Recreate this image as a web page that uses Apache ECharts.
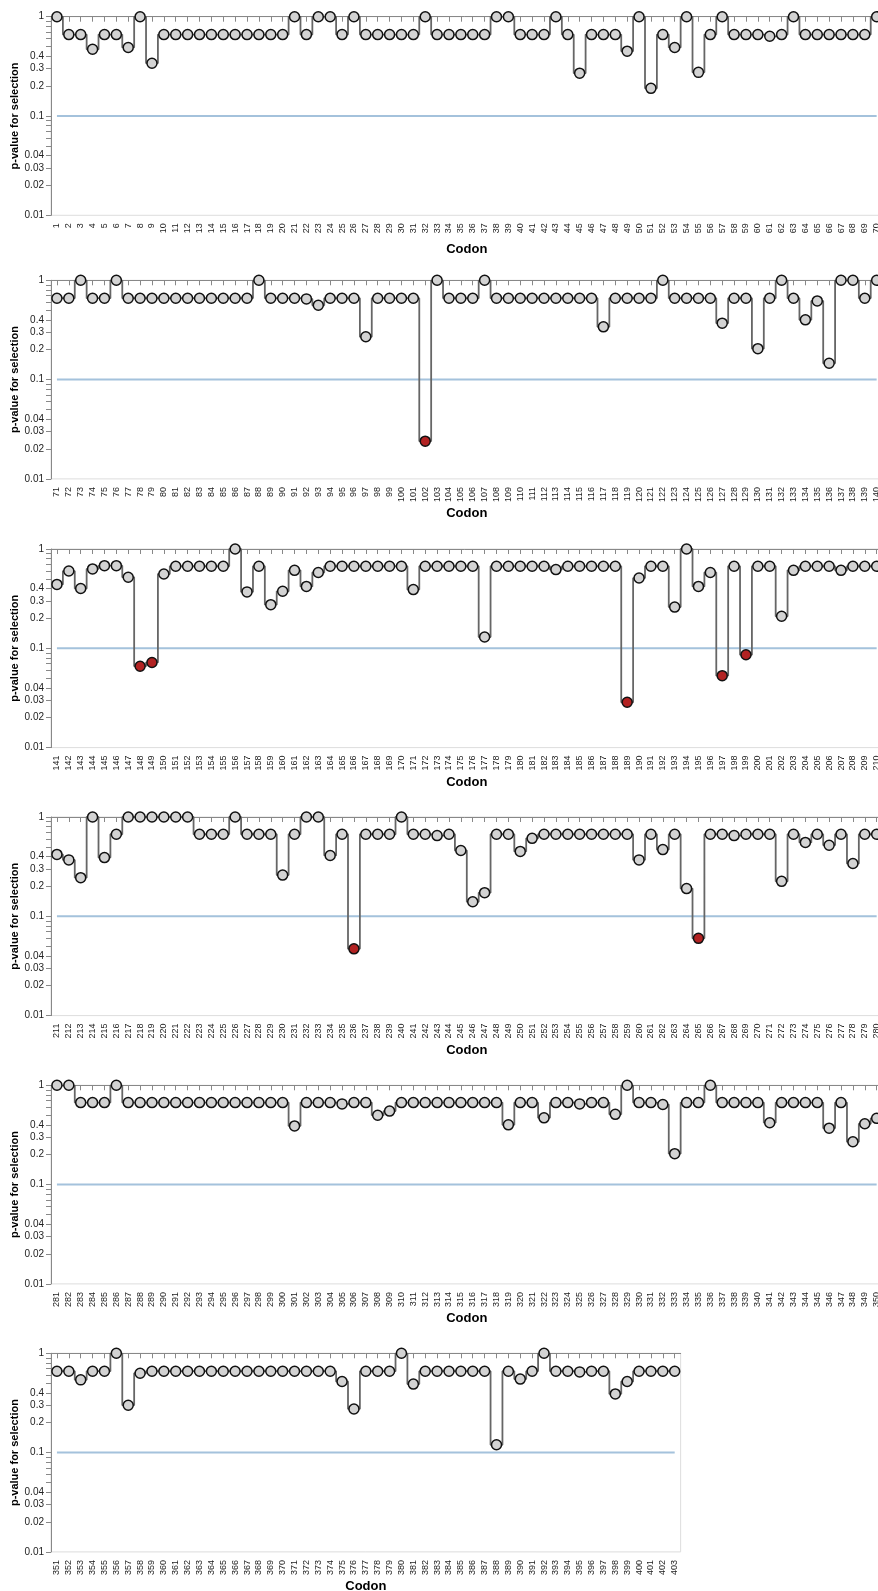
<!DOCTYPE html>
<html>
<head>
<meta charset="utf-8">
<script src="https://cdn.jsdelivr.net/npm/echarts@6/dist/echarts.min.js"></script>
<style>
  html, body { margin: 0; padding: 0; background: #fff; }
  #chart { width: 878px; height: 1591px; }
</style>
</head>
<body>
<div id="chart"></div>
<script>
// Codon ranges for each panel (first, last)
const PANEL_RANGES = [[1, 70], [71, 140], [141, 210], [211, 280], [281, 350], [351, 403]];

// p-values for selection, per panel
const P1 = [1,0.66,0.66,0.47,0.66,0.66,0.49,1,0.34,0.66,
  0.66,0.66,0.66,0.66,0.66,0.66,0.66,0.66,0.66,0.66,
  1,0.66,1,1,0.66,1,0.66,0.66,0.66,0.66,
  0.66,1,0.66,0.66,0.66,0.66,0.66,1,1,0.66,
  0.66,0.66,1,0.66,0.27,0.66,0.66,0.66,0.45,1,
  0.19,0.66,0.49,1,0.275,0.66,1,0.66,0.66,0.66,
  0.635,0.66,1,0.66,0.66,0.66,0.66,0.66,0.66,1];
const P2 = [0.66,0.66,1,0.66,0.66,1,0.66,0.66,0.66,0.66,
  0.66,0.66,0.66,0.66,0.66,0.66,0.66,1,0.66,0.66,
  0.66,0.65,0.56,0.66,0.66,0.66,0.27,0.66,0.66,0.66,
  0.66,0.024,1,0.66,0.66,0.66,1,0.66,0.66,0.66,
  0.66,0.66,0.66,0.66,0.66,0.66,0.34,0.66,0.66,0.66,
  0.66,1,0.66,0.66,0.66,0.66,0.37,0.66,0.66,0.205,
  0.66,1,0.66,0.40,0.62,0.146,1,1,0.66,1];
const P3 = [0.44,0.60,0.40,0.63,0.68,0.68,0.52,0.066,0.072,0.56,
  0.67,0.67,0.67,0.67,0.67,1,0.37,0.67,0.275,0.375,
  0.61,0.42,0.58,0.67,0.67,0.67,0.67,0.67,0.67,0.67,
  0.39,0.67,0.67,0.67,0.67,0.67,0.13,0.67,0.67,0.67,
  0.67,0.67,0.62,0.67,0.67,0.67,0.67,0.67,0.0286,0.51,
  0.67,0.67,0.26,1,0.42,0.58,0.053,0.67,0.086,0.67,
  0.67,0.21,0.61,0.67,0.67,0.67,0.61,0.67,0.67,0.67];
const P4 = [0.42,0.37,0.245,1,0.39,0.67,1,1,1,1,
  1,1,0.67,0.67,0.67,1,0.67,0.67,0.67,0.26,
  0.67,1,1,0.41,0.67,0.047,0.67,0.67,0.67,1,
  0.67,0.67,0.65,0.67,0.46,0.14,0.173,0.67,0.67,0.45,
  0.61,0.67,0.67,0.67,0.67,0.67,0.67,0.67,0.67,0.37,
  0.67,0.47,0.67,0.19,0.06,0.67,0.67,0.65,0.67,0.67,
  0.67,0.225,0.67,0.555,0.67,0.52,0.67,0.34,0.67,0.67];
const P5 = [1,1,0.67,0.67,0.67,1,0.67,0.67,0.67,0.67,
  0.67,0.67,0.67,0.67,0.67,0.67,0.67,0.67,0.67,0.67,
  0.39,0.67,0.67,0.67,0.65,0.67,0.67,0.50,0.55,0.67,
  0.67,0.67,0.67,0.67,0.67,0.67,0.67,0.67,0.40,0.67,
  0.67,0.47,0.67,0.67,0.65,0.67,0.67,0.51,1,0.67,
  0.67,0.64,0.205,0.67,0.67,1,0.67,0.67,0.67,0.67,
  0.42,0.67,0.67,0.67,0.67,0.37,0.67,0.27,0.41,0.465];
const P6 = [0.66,0.66,0.54,0.66,0.66,1,0.30,0.63,0.66,0.66,
  0.66,0.66,0.66,0.66,0.66,0.66,0.66,0.66,0.66,0.66,
  0.66,0.66,0.66,0.66,0.52,0.275,0.66,0.66,0.66,1,
  0.49,0.66,0.66,0.66,0.66,0.66,0.66,0.12,0.66,0.55,
  0.66,1,0.66,0.66,0.65,0.66,0.66,0.39,0.52,0.66,
  0.66,0.66,0.66];
const PANEL_VALUES = [P1, P2, P3, P4, P5, P6];

const THRESHOLD = 0.1;
const Y_TICKS = [0.01,0.02,0.03,0.04,0.05,0.06,0.07,0.08,0.09,
                 0.1,0.2,0.3,0.4,0.5,0.6,0.7,0.8,0.9,1];
const Y_LABELS = [1, 0.4, 0.3, 0.2, 0.1, 0.04, 0.03, 0.02, 0.01];
const Y_TITLE = 'p-value for selection';
const X_TITLE = 'Codon';

// layout (pixels)
const GRID_TOPS = [16.7, 280.3, 549, 817, 1085.3, 1353.3];
const GRID_HEIGHT = 198.6;
const GRID_LEFT = 51;
const STEP = 11.88;

const FONT = '"Liberation Sans", Arial, Helvetica, sans-serif';
const AXIS_COLOR = '#888';

const grids = [], xAxes = [], yAxes = [], series = [];
PANEL_RANGES.forEach((r, i) => {
  const cats = [];
  for (let c = r[0]; c <= r[1]; c++) cats.push(String(c));
  const vals = PANEL_VALUES[i];
  grids.push({
    left: GRID_LEFT, top: GRID_TOPS[i], height: GRID_HEIGHT, width: cats.length * STEP,
    outerBoundsMode: 'none', containLabel: false,
    show: true, borderColor: '#ddd', borderWidth: 1, backgroundColor: 'transparent'
  });
  xAxes.push({
    type: 'category', gridIndex: i, data: cats, boundaryGap: true,
    name: X_TITLE, nameLocation: 'middle', nameGap: 28, nameMoveOverlap: false,
    nameTextStyle: { fontFamily: FONT, fontWeight: 'bold', fontSize: 13, color: '#000' },
    axisLine: { show: true, lineStyle: { color: AXIS_COLOR, width: 1 } },
    axisTick: { show: true, alignWithLabel: true, interval: 0, length: 5, lineStyle: { color: AXIS_COLOR } },
    axisLabel: { interval: 0, rotate: 90, fontSize: 9, fontFamily: FONT, color: '#222', margin: 8 },
    splitLine: { show: false }
  });
  yAxes.push({
    type: 'value', gridIndex: i, min: -2, max: 0,
    name: Y_TITLE, nameLocation: 'middle', nameGap: 31, nameRotate: 90, nameMoveOverlap: false,
    nameTextStyle: { fontFamily: FONT, fontWeight: 'bold', fontSize: 11, color: '#000' },
    axisLine: { show: true, lineStyle: { color: AXIS_COLOR, width: 1 } },
    axisTick: { show: true, length: 5, lineStyle: { color: AXIS_COLOR },
      customValues: Y_TICKS.map(v => Math.log10(v)) },
    axisLabel: { fontSize: 10, fontFamily: FONT, color: '#222', margin: 7,
      customValues: Y_LABELS.map(v => Math.log10(v)),
      formatter: v => String(Number(Math.pow(10, v).toPrecision(1))) },
    splitLine: { show: false }
  });
  series.push({
    type: 'line', xAxisIndex: i, yAxisIndex: i, z: 1,
    data: cats.map(() => Math.log10(THRESHOLD)),
    symbol: 'none', silent: true,
    lineStyle: { color: '#a4c2dc', width: 2 }
  });
  series.push({
    type: 'line', xAxisIndex: i, yAxisIndex: i, z: 3,
    step: 'middle', showAllSymbol: true,
    symbol: 'circle', symbolSize: 10,
    data: vals.map(v => ({
      value: Math.log10(v),
      itemStyle: v < THRESHOLD ? { color: '#b22222' } : undefined
    })),
    itemStyle: { color: '#d3d3d3', borderColor: '#111', borderWidth: 1.5 },
    lineStyle: { color: '#666', width: 1.8 }
  });
});

const chart = echarts.init(document.getElementById('chart'), null, { renderer: 'canvas' });
chart.setOption({
  animation: false,
  backgroundColor: '#fff',
  grid: grids, xAxis: xAxes, yAxis: yAxes, series: series
});
</script>
</body>
</html>
